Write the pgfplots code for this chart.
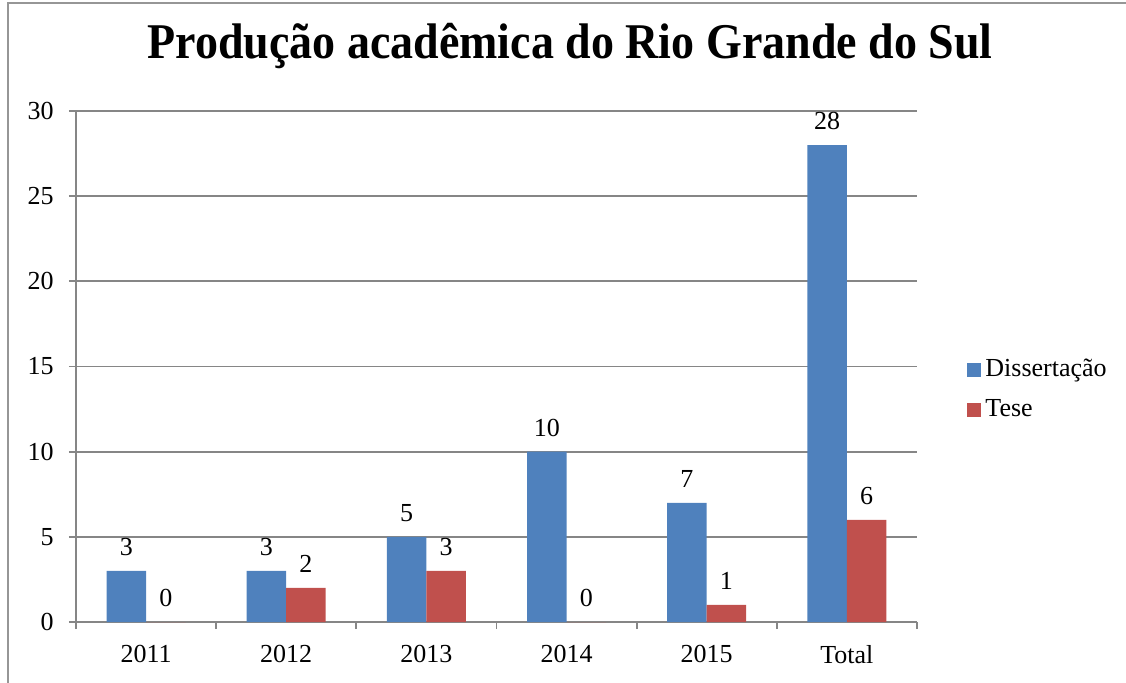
\documentclass[border=0pt]{standalone}
\usepackage{fontspec}
\setmainfont{Liberation Serif}
\usepackage{pgfplots}
\pgfplotsset{compat=1.18}
\definecolor{dblue}{RGB}{79,129,189}
\definecolor{dred}{RGB}{192,80,77}
\definecolor{gridc}{RGB}{134,134,134}
\definecolor{framec}{RGB}{150,150,150}
\begin{document}
\begin{tikzpicture}
\useasboundingbox (-38pt,-30pt) rectangle (525pt,311pt);
\draw[framec, line width=1pt] (-34pt,-31pt) -- (-34pt,309.5pt) -- (526pt,309.5pt);
\begin{axis}[
  at={(0pt,0pt)}, anchor=south west,
  scale only axis, width=420.5pt, height=255.5pt,
  xmin=-0.5, xmax=5.5, ymin=0, ymax=30,
  ybar=0pt, bar width=19.75pt,
  xtick={0,...,5}, xticklabels={2011,2012,2013,2014,2015,Total},
  major x tick style={draw=none},
  minor xtick={-0.5,0.5,...,5.5},
  ytick={0,5,...,30},
  tick align=outside,
  ymajorgrids, grid style={gridc, line width=0.9pt},
  axis x line*=bottom, axis y line*=left,
  axis line style={gridc, line width=0.9pt},
  tick style={gridc, line width=0.9pt},
  major tick length=3.5pt, minor tick length=3.5pt,
  ticklabel style={font=\fontsize{13}{15}\selectfont},
  xticklabel style={yshift=-4.5pt},
  yticklabel style={xshift=-4.2pt},
  /pgf/number format/assume math mode=true,
  nodes near coords,
  nodes near coords style={font=\fontsize{13}{15}\selectfont, inner sep=0pt, anchor=south, yshift=7.5pt, text=black},
  legend style={draw=none, fill=none, inner sep=0pt, at={(1.0595,0.5225)}, anchor=north west,
    font=\fontsize{13}{15}\selectfont, row sep=6pt},
  legend cell align=left,
  legend image code/.code={\fill[#1] (0pt,-3.5pt) rectangle (7pt,3.5pt);},
]
\addplot[fill=dblue, draw=none] coordinates {(0,3) (1,3) (2,5) (3,10) (4,7) (5,28)};
\addplot[fill=dred, draw=none] coordinates {(0,0) (1,2) (2,3) (3,0) (4,1) (5,6)};
\legend{Dissertação, Tese}
\end{axis}
\node[anchor=base, xscale=0.92, font=\fontsize{25}{27}\selectfont\bfseries] at (247pt,282pt) {Produção acadêmica do Rio Grande do Sul};
\end{tikzpicture}
\end{document}
